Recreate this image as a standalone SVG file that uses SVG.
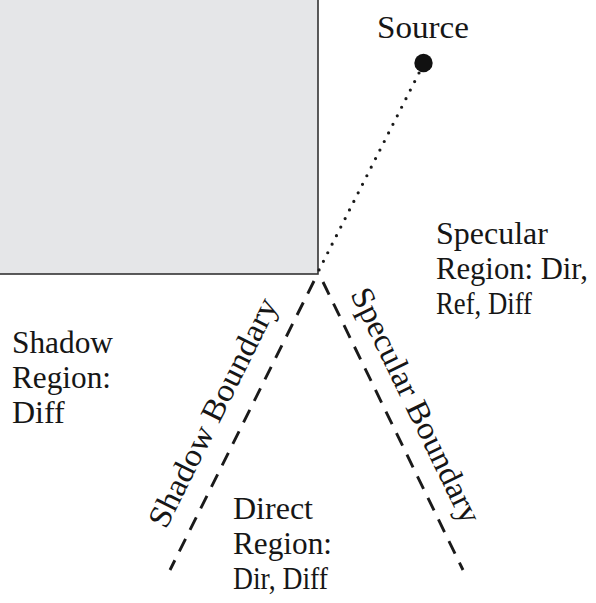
<svg xmlns="http://www.w3.org/2000/svg" width="596" height="603" viewBox="0 0 596 603">
<style>
.t{font-family:"Liberation Serif","Times New Roman",serif;font-size:32px;fill:#161616}
.dash{fill:none;stroke:#1a1a1a;stroke-width:2.9;stroke-dasharray:14 10}
.dot{fill:none;stroke:#1a1a1a;stroke-width:3.2;stroke-linecap:round;stroke-dasharray:0 9.6}
</style>
<rect width="596" height="603" fill="#ffffff"/>
<g id="wall">
<rect x="-3" y="-3" width="321" height="277" fill="#e5e6e8" stroke="#333333" stroke-width="1.6"/>
</g>
<g id="source">
<circle cx="423.5" cy="63" r="9.2" fill="#111111"/>
<text class="t" x="377" y="38" textLength="92" lengthAdjust="spacingAndGlyphs">Source</text>
</g>
<g id="connectors">
<line class="dot" x1="419" y1="73" x2="318" y2="272"/>
<line class="dash" x1="314" y1="281" x2="170" y2="570"/>
<line class="dash" x1="323" y1="282" x2="463" y2="570"/>
</g>
<g id="specular-region">
<text class="t" x="436" y="244">Specular</text>
<text class="t" x="436" y="279" textLength="152" lengthAdjust="spacingAndGlyphs">Region: Dir,</text>
<text class="t" x="436" y="314" textLength="96" lengthAdjust="spacingAndGlyphs">Ref, Diff</text>
</g>
<g id="shadow-region">
<text class="t" x="12" y="353" textLength="101" lengthAdjust="spacingAndGlyphs">Shadow</text>
<text class="t" x="12" y="388" textLength="99" lengthAdjust="spacingAndGlyphs">Region:</text>
<text class="t" x="12" y="423">Diff</text>
</g>
<g id="direct-region">
<text class="t" x="233" y="519" textLength="80" lengthAdjust="spacingAndGlyphs">Direct</text>
<text class="t" x="233" y="554" textLength="99" lengthAdjust="spacingAndGlyphs">Region:</text>
<text class="t" x="233" y="589" textLength="95" lengthAdjust="spacingAndGlyphs">Dir, Diff</text>
</g>
<g id="shadow-boundary">
<text class="t" transform="translate(166,530) rotate(-63.5)" textLength="252" lengthAdjust="spacingAndGlyphs">Shadow Boundary</text>
</g>
<g id="specular-boundary">
<text class="t" transform="translate(350,294) rotate(64)" textLength="258" lengthAdjust="spacingAndGlyphs">Specular Boundary</text>
</g>
</svg>
